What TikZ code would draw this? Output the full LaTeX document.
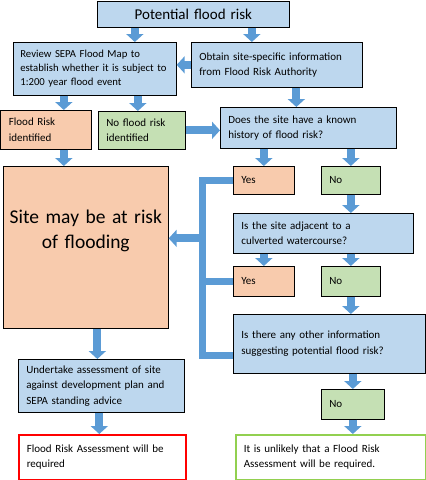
\documentclass[tikz,border=0pt]{standalone}
\usepackage{fontspec}
\setmainfont{Carlito}
\usetikzlibrary{arrows.meta,calc}
\definecolor{queryblue}{HTML}{BDD7EE}
\definecolor{riskorange}{HTML}{F8CBAD}
\definecolor{cleargreen}{HTML}{C5E0B4}
\definecolor{flowblue}{HTML}{5B9BD5}
\definecolor{alertred}{HTML}{FF0000}
\definecolor{safegreen}{HTML}{92D050}
\tikzset{
  box/.style={draw=black,line width=0.7pt,anchor=north west,align=left,inner xsep=8pt,inner ysep=0pt,font=\fontsize{11}{15.5}\selectfont},
  querybox/.style={box,fill=queryblue},
  riskbox/.style={box,fill=riskorange},
  clearbox/.style={box,fill=cleargreen},
  resultbox/.style={box,fill=white,line width=1.6pt},
  flow/.style={-{Triangle[width=17pt,length=8pt]},line width=8pt,draw=flowblue},
  rail/.style={line width=7pt,draw=flowblue,line join=miter}
}
\begin{document}
\begin{tikzpicture}[x=1pt,y=-1pt]
  \useasboundingbox (0,0) rectangle (426,480);
  % top row
  \node[querybox,text width=176pt,minimum height=26pt,align=center,font=\fontsize{15}{17}\selectfont] (start) at (97,1) {Potential flood risk};
  \node[querybox,inner xsep=7pt,text width=149pt,minimum height=53pt,font=\fontsize{10.7}{14}\selectfont] (review) at (13,42) {Review SEPA Flood Map to\\establish whether it is subject to\\1:200 year flood event};
  \node[querybox,text width=155pt,minimum height=45pt] (obtain) at (191,42) {Obtain site-specific information\\from Flood Risk Authority};
  \node[riskbox,text width=74pt,minimum height=39pt] (riskfound) at (0.5,110) {Flood Risk\\identified};
  \node[clearbox,text width=71pt,minimum height=38pt] (norisk) at (98,111) {No flood risk\\identified};
  \node[querybox,text width=160pt,minimum height=41pt] (history) at (220,107) {Does the site have a known\\history of flood risk?};
  % left column
  \node[riskbox,inner xsep=2pt,text width=161pt,align=center,text height=57pt,text depth=105pt,font=\fontsize{19.5}{25}\selectfont] (site) at (3,166) {Site may be at risk\\of flooding};
  \node[querybox,text width=150pt,minimum height=53pt] (assess) at (18,359) {Undertake assessment of site\\against development plan and\\SEPA standing advice};
  \node[resultbox,draw=alertred,text width=151pt,minimum height=45pt] (fra) at (18,434) {Flood Risk Assessment will be\\required};
  % right column
  \node[riskbox,text width=45pt,minimum height=28pt] (yesa) at (233,166) {Yes};
  \node[clearbox,text width=43pt,minimum height=28pt] (noa) at (321,166) {No};
  \node[querybox,text width=164pt,minimum height=40pt] (culvert) at (233,213) {Is the site adjacent to a\\culverted watercourse?};
  \node[riskbox,text width=45pt,minimum height=30pt] (yesb) at (233,266) {Yes};
  \node[clearbox,text width=43pt,minimum height=30pt] (nob) at (321,266) {No};
  \node[querybox,text width=176pt,minimum height=59pt] (other) at (233,314) {Is there any other information\\suggesting potential flood risk?};
  \node[clearbox,text width=47pt,minimum height=30pt] (noc) at (321,389) {No};
  \node[resultbox,draw=safegreen,text width=174pt,minimum height=45pt] (unlikely) at (235,434) {It is unlikely that a Flood Risk\\Assessment will be required.};
  % arrows
  \draw[flow] ([xshift=40pt]review.north |- start.south) -- ([xshift=40pt]review.north);
  \draw[flow] ([xshift=-25pt]obtain.north |- start.south) -- ([xshift=-25pt]obtain.north);
  \draw[flow] (obtain.west) -- (obtain.west -| review.east);
  \draw[flow] ([xshift=18pt]riskfound.north |- review.south) -- ([xshift=18pt]riskfound.north);
  \draw[flow] ([xshift=-4pt]norisk.north |- review.south) -- ([xshift=-4pt]norisk.north);
  \draw[flow] ([xshift=-12pt]history.north |- obtain.south) -- ([xshift=-12pt]history.north);
  \draw[flow] (norisk.east) -- (norisk.east -| history.west);
  \draw[flow] ([xshift=18pt]riskfound.south) -- ([xshift=18pt]riskfound.south |- site.north);
  \draw[flow] (yesa.north |- history.south) -- (yesa.north);
  \draw[flow] (noa.north |- history.south) -- (noa.north);
  \draw[flow] (noa.south) -- (noa.south |- culvert.north);
  \draw[flow] (yesb.north |- culvert.south) -- (yesb.north);
  \draw[flow] (nob.north |- culvert.south) -- (nob.north);
  \draw[flow] (nob.south) -- (nob.south |- other.north);
  \draw[flow] (noc.north |- other.south) -- (noc.north);
  \draw[flow] (noc.south) -- (noc.south |- unlikely.north);
  \draw[flow] ([xshift=-4pt]assess.north |- site.south) -- ([xshift=-4pt]assess.north);
  \draw[flow] ([xshift=-3pt]fra.north |- assess.south) -- ([xshift=-3pt]fra.north);
  % yes branches back to the site box
  \coordinate (railx) at (202,0);
  \coordinate (otherport) at ([yshift=-12pt]other.west);
  \coordinate (siteport) at ([yshift=9pt]site.east);
  \draw[rail] (yesa.west) -| (railx |- otherport) -- (otherport);
  \draw[rail] (yesb.west) -- (yesb.west -| railx);
  \draw[flow] (siteport -| railx) -- (siteport);
\end{tikzpicture}
\end{document}
